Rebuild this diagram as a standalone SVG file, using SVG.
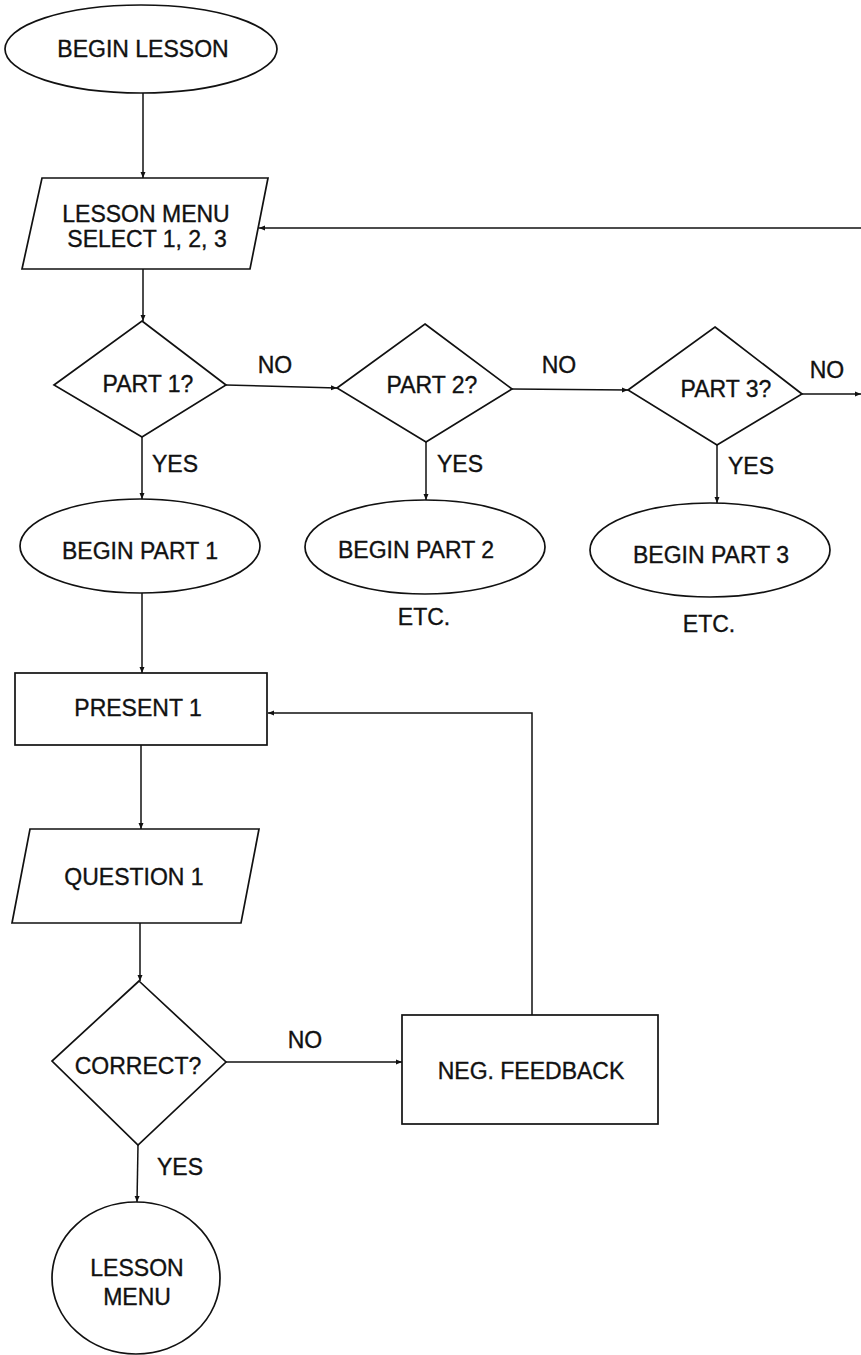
<svg xmlns="http://www.w3.org/2000/svg" width="861" height="1355" viewBox="0 0 861 1355">
<defs>
<style>
.s{fill:#fff;stroke:#111;stroke-width:1.7}
.c{fill:none;stroke:#111;stroke-width:1.5}
text{font-family:"Liberation Sans",Arial,sans-serif;font-size:23px;fill:#111;stroke:#111;stroke-width:0.35}
.m{text-anchor:middle}
</style>
<marker id="a" markerWidth="7" markerHeight="6" refX="6" refY="3" orient="auto" markerUnits="userSpaceOnUse">
<path d="M0,0.5 L6,3 L0,5.5 z" fill="#111"/>
</marker>
</defs>
<rect width="861" height="1355" fill="#fff"/>
<g id="connectors">
<line class="c" x1="143" y1="93" x2="143" y2="178" marker-end="url(#a)"/>
<line class="c" x1="143" y1="269" x2="143" y2="321" marker-end="url(#a)"/>
<line class="c" x1="861" y1="228" x2="259" y2="228" marker-end="url(#a)"/>
<line class="c" x1="226" y1="385" x2="337" y2="388" marker-end="url(#a)"/>
<line class="c" x1="512" y1="389" x2="628" y2="390" marker-end="url(#a)"/>
<line class="c" x1="802" y1="394" x2="861" y2="394" marker-end="url(#a)"/>
<line class="c" x1="142" y1="437" x2="142" y2="499" marker-end="url(#a)"/>
<line class="c" x1="426" y1="442" x2="426" y2="500" marker-end="url(#a)"/>
<line class="c" x1="717" y1="445" x2="717" y2="503" marker-end="url(#a)"/>
<line class="c" x1="142" y1="593" x2="142" y2="673" marker-end="url(#a)"/>
<line class="c" x1="141" y1="745" x2="141" y2="829" marker-end="url(#a)"/>
<line class="c" x1="140" y1="923" x2="140" y2="981" marker-end="url(#a)"/>
<line class="c" x1="226" y1="1062" x2="402" y2="1062" marker-end="url(#a)"/>
<line class="c" x1="138" y1="1145" x2="137" y2="1202" marker-end="url(#a)"/>
<polyline class="c" points="532,1015 532,713 268,713" marker-end="url(#a)"/>
<text x="275" y="373" class="m">NO</text>
<text x="559" y="373" class="m">NO</text>
<text x="827" y="378" class="m">NO</text>
<text x="152" y="472">YES</text>
<text x="437" y="472">YES</text>
<text x="728" y="474">YES</text>
<text x="305" y="1048" class="m">NO</text>
<text x="157" y="1175">YES</text>
</g>
<g id="begin-lesson">
<ellipse class="s" cx="141" cy="49" rx="136" ry="44"/>
<text x="143" y="57" class="m">BEGIN LESSON</text>
</g>
<g id="lesson-menu-select">
<polygon class="s" points="42,178 268,178 250,269 22,269"/>
<text x="146" y="222" class="m">LESSON MENU</text>
<text x="147" y="247" class="m">SELECT 1, 2, 3</text>
</g>
<g id="part1">
<polygon class="s" points="142,321 226,385 142,437 54,385"/>
<text x="148" y="392" class="m">PART 1?</text>
</g>
<g id="part2">
<polygon class="s" points="425,324 512,389 426,442 337,388"/>
<text x="432" y="393" class="m">PART 2?</text>
</g>
<g id="part3">
<polygon class="s" points="715,327 802,394 717,445 628,390"/>
<text x="726" y="397" class="m">PART 3?</text>
</g>
<g id="begin-part1">
<ellipse class="s" cx="140" cy="546" rx="120" ry="47"/>
<text x="140" y="559" class="m">BEGIN PART 1</text>
</g>
<g id="begin-part2">
<ellipse class="s" cx="425" cy="547" rx="120" ry="47"/>
<text x="416" y="558" class="m">BEGIN PART 2</text>
<text x="424" y="625" class="m">ETC.</text>
</g>
<g id="begin-part3">
<ellipse class="s" cx="710" cy="550" rx="120" ry="47"/>
<text x="711" y="563" class="m">BEGIN PART 3</text>
<text x="709" y="632" class="m">ETC.</text>
</g>
<g id="present1">
<rect class="s" x="15" y="673" width="252" height="72"/>
<text x="138" y="716" class="m">PRESENT 1</text>
</g>
<g id="question1">
<polygon class="s" points="30,829 259,829 241,923 12,923"/>
<text x="134" y="885" class="m">QUESTION 1</text>
</g>
<g id="correct">
<polygon class="s" points="139,981 226,1062 138,1145 52,1061"/>
<text x="138" y="1074" class="m">CORRECT?</text>
</g>
<g id="neg-feedback">
<rect class="s" x="402" y="1015" width="256" height="109"/>
<text x="531" y="1079" class="m">NEG. FEEDBACK</text>
</g>
<g id="lesson-menu-end">
<ellipse class="s" cx="136" cy="1278" rx="84" ry="76"/>
<text x="137" y="1276" class="m">LESSON</text>
<text x="137" y="1305" class="m">MENU</text>
</g>
</svg>
